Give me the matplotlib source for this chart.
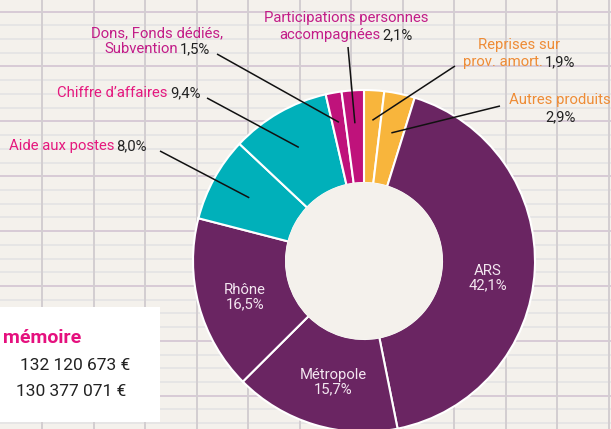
import matplotlib
matplotlib.use("Agg")
import matplotlib.pyplot as plt
import numpy as np

# ---- data ----
categories = ["Reprises sur prov. amort.", "Autres produits", "ARS", "Métropole", "Rhône",
              "Aide aux postes", "Chiffre d'affaires", "Dons, Fonds dédiés, Subvention",
              "Participations personnes accompagnées"]
values = [1.9, 2.9, 42.1, 15.7, 16.5, 8.0, 9.4, 1.5, 2.1]
value_labels = ["1,9%", "2,9%", "42,1%", "15,7%", "16,5%", "8,0%", "9,4%", "1,5%", "2,1%"]
memo_title = "mémoire"
memo_values = ["132 120 673 €", "130 377 071 €"]

# ---- styles ----
PURPLE = "#6A2562"
TEAL = "#00B0BA"
MAGENTA = "#BF127B"
ORANGE = "#F8B53C"
slice_colors = [ORANGE, ORANGE, PURPLE, PURPLE, PURPLE, TEAL, TEAL, MAGENTA, MAGENTA]
PINK_TXT = "#E5187E"
MAG_TXT = "#C21C88"
ORANGE_TXT = "#EE8C36"
DARK = "#222222"
BG = "#F4F1EC"
FONT = "Roboto"
FS = 10.7

W, H = 611, 429
fig = plt.figure(figsize=(W / 100, H / 100), dpi=100)
fig.patch.set_facecolor(BG)
ax = fig.add_axes([0, 0, 1, 1])
ax.set_xlim(0, W)
ax.set_ylim(0, H)
ax.set_aspect("equal")
ax.axis("off")

def Y(y_img):
    return H - y_img

# background grid paper
for k in range(40):
    y = 11.6 + 13.72 * k
    if y > H:
        break
    strong = (k % 4 == 0)
    ax.axhline(Y(y), color="#D6C8D4" if strong else "#E3E2E4", lw=1.3 if strong else 1.1, zorder=0)
for k in range(-1, 13):
    x = 42 + 51.5 * k
    ax.axvline(x, color="#D3CED1", lw=1.4, zorder=0)

# donut
cx, cy, R, r_in = 364, Y(261), 171, 78
wedges, _ = ax.pie(values, colors=slice_colors, startangle=90, counterclock=False,
                   center=(cx, cy), radius=R, frame=True,
                   wedgeprops=dict(width=R - r_in, edgecolor="white", linewidth=1.5))
for w in wedges:
    w.set_zorder(2)
ax.add_patch(plt.Circle((cx, cy), r_in, color=BG, zorder=3))
ax.set_xlim(0, W)
ax.set_ylim(0, H)
ax.axis("off")

fig.canvas.draw()
renderer = fig.canvas.get_renderer()

def seg_line(parts, xc, y_img, size=FS, ha="center"):
    """draw a line of coloured text segments, centred at xc (image coords)"""
    texts = []
    widths = []
    for s, c in parts:
        t = ax.text(0, 0, s, fontsize=size, family=FONT, color=c, va="center", ha="left", zorder=5)
        bb = t.get_window_extent(renderer)
        texts.append(t)
        widths.append(bb.width)
    space = size * 0.2
    total = sum(widths) + space * (len(parts) - 1)
    if ha == "center":
        x0 = xc - total / 2
    elif ha == "right":
        x0 = xc - total
    else:
        x0 = xc
    for t, wd in zip(texts, widths):
        t.set_position((x0, Y(y_img)))
        x0 += wd + space

def mid_angle(i):
    cum = np.cumsum([0] + values)
    tot = cum[-1]
    m = (cum[i] + cum[i + 1]) / 2 / tot
    return np.deg2rad(90 - 360 * m)

def leader(i, start_img, r_end):
    a = mid_angle(i)
    ex, ey = cx + r_end * np.cos(a), cy + r_end * np.sin(a)
    ax.plot([start_img[0], ex], [Y(start_img[1]), ey], color="#111111", lw=1.1, zorder=6,
            solid_capstyle="butt")

# outer labels
seg_line([("Reprises sur", ORANGE_TXT)], 519, 45)
seg_line([("prov. amort.", ORANGE_TXT), (value_labels[0], DARK)], 519, 62)
leader(0, (455, 66), 141)

seg_line([("Autres produits", ORANGE_TXT)], 560, 100)
seg_line([(value_labels[1], DARK)], 561, 117)
leader(1, (500, 106), 131)

seg_line([("Aide aux postes", PINK_TXT), (value_labels[5], DARK)], 78, 146)
leader(5, (160, 151), 131)

seg_line([("Chiffre d’affaires", PINK_TXT), (value_labels[6], DARK)], 129, 93)
leader(6, (207, 98), 131)

seg_line([("Dons, Fonds dédiés,", MAG_TXT)], 157, 33)
seg_line([("Subvention", MAG_TXT), (value_labels[7], DARK)], 157, 49)
leader(7, (217, 54), 141)

seg_line([("Participations personnes", MAG_TXT)], 346, 18)
seg_line([("accompagnées", MAG_TXT), (value_labels[8], DARK)], 346, 35)
leader(8, (348, 47), 138)

# inner labels
inner_col = "#F3E6F0"
for i, (xi, yi) in [(2, (488, 278)), (3, (333, 382)), (4, (245, 297))]:
    ax.text(xi, Y(yi), f"{categories[i]}\n{value_labels[i]}", fontsize=FS, family=FONT,
            color=inner_col, ha="center", va="center", linespacing=1.0, zorder=5)

# memo box
ax.add_patch(plt.Rectangle((0, Y(422)), 160, 115, facecolor="white", edgecolor="none", zorder=4))
ax.text(3, Y(338), memo_title, fontsize=14, family=FONT, fontweight="bold", color="#E5107E",
        ha="left", va="center", zorder=5)
ax.text(20, Y(365), memo_values[0], fontsize=12.5, family=FONT, color=DARK, ha="left", va="center", zorder=5)
ax.text(16, Y(391), memo_values[1], fontsize=12.5, family=FONT, color=DARK, ha="left", va="center", zorder=5)

fig.savefig("out.png", dpi=100, facecolor=BG)
